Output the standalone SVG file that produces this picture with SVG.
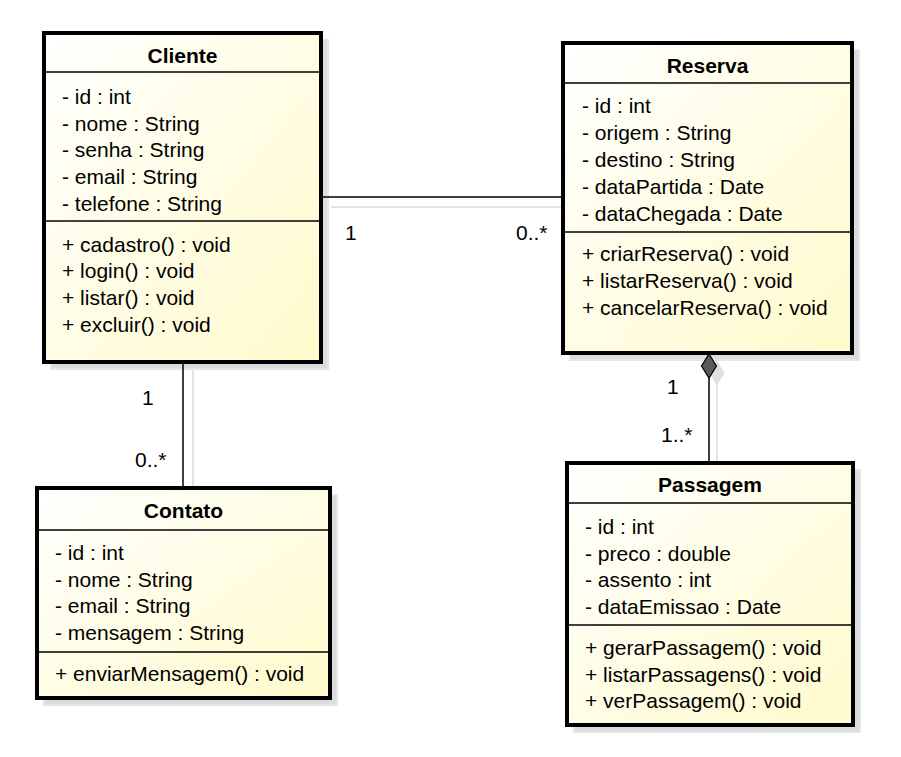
<svg xmlns="http://www.w3.org/2000/svg" width="901" height="757" viewBox="0 0 901 757">
<defs>
<linearGradient id="fill" x1="0" y1="0" x2="1" y2="1">
<stop offset="0" stop-color="#ffffff"/>
<stop offset="1" stop-color="#fffacb"/>
</linearGradient>
</defs>
<style>
text{font-family:"Liberation Sans",Arial,sans-serif;font-size:21px;fill:#000}
.t{font-weight:bold;text-anchor:middle}
.box{fill:url(#fill);stroke:#000;stroke-width:4}
.sh{fill:#dcdcdc;stroke:#e6e6e6;stroke-width:2}
.div{stroke:#000;stroke-width:1.5}
.ln{stroke:#000;stroke-width:1.5;fill:none}
.lsh{stroke:#d8d8d8;stroke-width:1.5;fill:none}
</style>
<rect width="901" height="757" fill="#fff"/>
<g id="shadows">
<rect class="sh" x="51" y="40" width="277" height="329"/>
<rect class="sh" x="570" y="50" width="289" height="310"/>
<rect class="sh" x="44" y="495" width="293" height="210"/>
<rect class="sh" x="574" y="470" width="286" height="262"/>
</g>
<g id="cliente">
<rect class="box" x="44" y="33" width="277" height="329"/>
<line class="div" x1="44" y1="72" x2="321" y2="72"/>
<line class="div" x1="44" y1="221" x2="321" y2="221"/>
<text class="t" x="182.5" y="63">Cliente</text>
<text x="62" y="104">- id : int</text>
<text x="62" y="130.5">- nome : String</text>
<text x="62" y="157">- senha : String</text>
<text x="62" y="184">- email : String</text>
<text x="62" y="211">- telefone : String</text>
<text x="62" y="251.5">+ cadastro() : void</text>
<text x="62" y="278">+ login() : void</text>
<text x="62" y="305">+ listar() : void</text>
<text x="62" y="331.5">+ excluir() : void</text>
</g>
<g id="reserva">
<rect class="box" x="563" y="43" width="289" height="310"/>
<line class="div" x1="563" y1="83" x2="852" y2="83"/>
<line class="div" x1="563" y1="232" x2="852" y2="232"/>
<text class="t" x="707.5" y="73">Reserva</text>
<text x="582" y="113">- id : int</text>
<text x="582" y="140">- origem : String</text>
<text x="582" y="167">- destino : String</text>
<text x="582" y="194">- dataPartida : Date</text>
<text x="582" y="221">- dataChegada : Date</text>
<text x="582" y="261">+ criarReserva() : void</text>
<text x="582" y="288">+ listarReserva() : void</text>
<text x="582" y="315">+ cancelarReserva() : void</text>
</g>
<g id="contato">
<rect class="box" x="37" y="488" width="293" height="210"/>
<line class="div" x1="37" y1="530" x2="330" y2="530"/>
<line class="div" x1="37" y1="652" x2="330" y2="652"/>
<text class="t" x="183.5" y="518">Contato</text>
<text x="55" y="560">- id : int</text>
<text x="55" y="586.5">- nome : String</text>
<text x="55" y="613">- email : String</text>
<text x="55" y="640">- mensagem : String</text>
<text x="55" y="681">+ enviarMensagem() : void</text>
</g>
<g id="passagem">
<rect class="box" x="567" y="463" width="286" height="262"/>
<line class="div" x1="567" y1="503" x2="853" y2="503"/>
<line class="div" x1="567" y1="625" x2="853" y2="625"/>
<text class="t" x="710" y="492">Passagem</text>
<text x="585" y="534">- id : int</text>
<text x="585" y="560.5">- preco : double</text>
<text x="585" y="587">- assento : int</text>
<text x="585" y="613.5">- dataEmissao : Date</text>
<text x="585" y="655">+ gerarPassagem() : void</text>
<text x="585" y="681.5">+ listarPassagens() : void</text>
<text x="585" y="708">+ verPassagem() : void</text>
</g>
<g id="connectors">
<line class="lsh" x1="331" y1="207" x2="561" y2="207"/>
<line class="ln" x1="323" y1="197" x2="561" y2="197"/>
<text x="345" y="240">1</text>
<text x="516" y="240">0..*</text>
<line class="lsh" x1="193" y1="370" x2="193" y2="486"/>
<line class="ln" x1="183" y1="364" x2="183" y2="486"/>
<text x="142" y="405">1</text>
<text x="135" y="467">0..*</text>
<line class="lsh" x1="717" y1="385" x2="717" y2="461"/>
<polygon points="717,361 724,373 717,385 710,373" fill="#e0e0e0" stroke="#e0e0e0"/>
<line class="ln" x1="709" y1="378" x2="709" y2="461"/>
<polygon points="709,354 716.5,366 709,378 701.5,366" fill="#5a5a5a" stroke="#000" stroke-width="1.2"/>
<text x="667" y="394">1</text>
<text x="661" y="442">1..*</text>
</g>
</svg>
